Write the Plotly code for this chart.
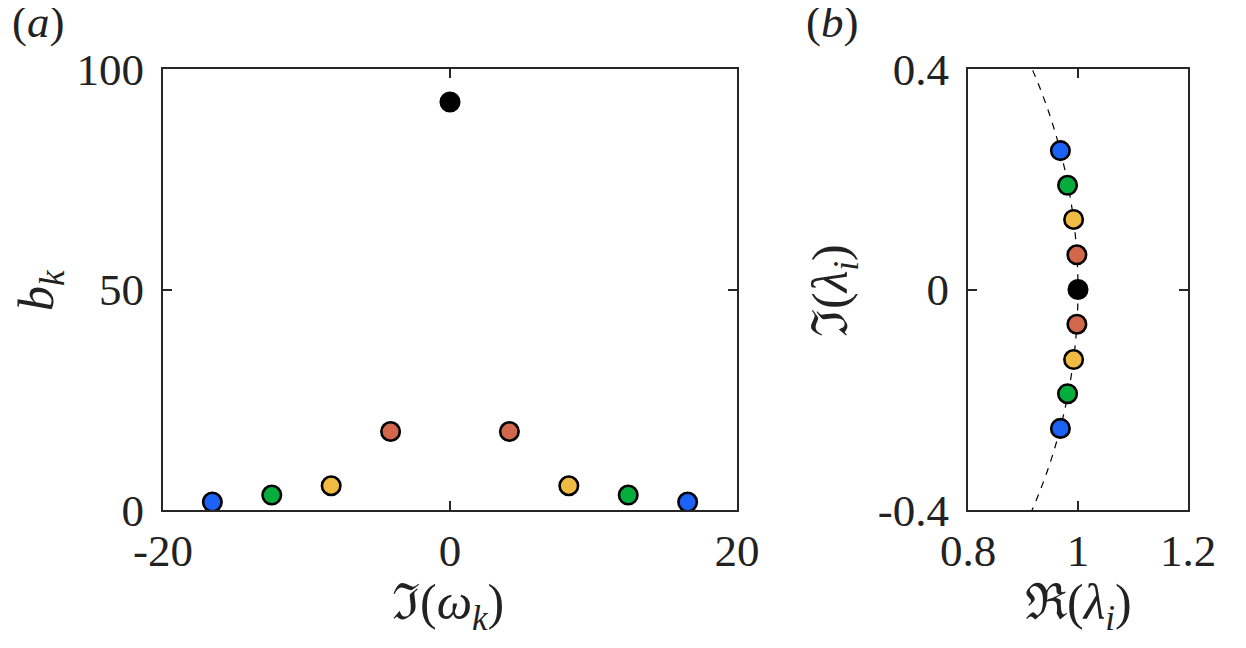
import plotly.graph_objects as go
from plotly.subplots import make_subplots

# panel (a): amplitudes vs imaginary part of the frequencies
omega_im = [-16.56, -12.42, -8.28, -4.14, 0.0, 4.14, 8.28, 12.42, 16.56]
b_k = [1.8, 3.4, 5.5, 17.8, 92.5, 17.8, 5.5, 3.4, 1.8]

# panel (b): eigenvalues on the unit circle
lam_re = [0.968, 0.981, 0.992, 0.998, 1.0, 0.998, 0.992, 0.981, 0.968]
lam_im = [0.252, 0.189, 0.127, 0.063, 0.0, -0.063, -0.127, -0.189, -0.252]

blue, green, yellow, orange = '#1b63f7', '#05ad3c', '#efbb42', '#d2684b'
colors = [blue, green, yellow, orange, 'black', orange, yellow, green, blue]

ax_col = '#262626'
font = 'Liberation Serif'
W, H = 1246, 648
off = 8  # page margin around the plot div


def px_x(p):
    return (p - off) / W


def px_y(p):
    return 1 - (p - off) / H


fig = make_subplots(rows=1, cols=2)

marker = dict(color=colors, size=18.5, line=dict(color='black', width=2.6))
fig.add_trace(go.Scatter(x=omega_im, y=b_k, mode='markers', marker=marker,
                         showlegend=False), row=1, col=1)
fig.add_trace(go.Scatter(x=lam_re, y=lam_im, mode='markers', marker=marker,
                         showlegend=False), row=1, col=2)

# dashed unit circle in panel (b)
fig.add_shape(type='circle', xref='x2', yref='y2', x0=-1, y0=-1, x1=1, y1=1,
              line=dict(color='black', width=1.2, dash='7px,7px'), layer='below')

axis_style = dict(showline=True, linecolor=ax_col, linewidth=2, mirror='ticks',
                  ticks='inside', ticklen=9, tickwidth=2, tickcolor=ax_col,
                  showgrid=False, zeroline=False, automargin=False,
                  tickfont=dict(family=font, size=45, color='#222222'))

fig.update_xaxes(axis_style)
fig.update_yaxes(axis_style, ticklabelstandoff=8)

ydom = [px_y(510), px_y(69)]
fig.update_xaxes(domain=[px_x(163), px_x(737)], range=[-20, 20],
                 tickvals=[-20, 0, 20], ticktext=['-20', '0', '20'], row=1, col=1)
fig.update_yaxes(domain=ydom, range=[0, 100],
                 tickvals=[0, 50, 100], ticktext=['0', '50', '100'], row=1, col=1)
fig.update_xaxes(domain=[px_x(968), px_x(1188)], range=[0.8, 1.2],
                 tickvals=[0.8, 1, 1.2], ticktext=['0.8', '1', '1.2'], row=1, col=2)
fig.update_yaxes(domain=ydom, range=[-0.4, 0.4],
                 tickvals=[-0.4, 0, 0.4], ticktext=['-0.4', '0', '0.4'], row=1, col=2)

lab = dict(family=font, size=45, color='#222222')
title = dict(family=font, size=50, color='#222222')
annotations = [
    dict(text='(<i>a</i>)', x=2 / W, y=px_y(22), xanchor='left', font=lab),
    dict(text='(<i>b</i>)', x=px_x(832), y=px_y(22), font=lab),
    dict(text='ℑ(<i>ω</i><sub><i>k</i></sub>)', x=px_x(448), y=px_y(606), font=title),
    dict(text='ℜ(<i>λ</i><sub><i>i</i></sub>)', x=px_x(1078), y=px_y(606), font=title),
    dict(text='<i>b</i><sub><i>k</i></sub>', x=px_x(40), y=px_y(290), textangle=-90,
         font=title),
    dict(text='ℑ(<i>λ</i><sub><i>i</i></sub>)', x=px_x(834), y=px_y(290), textangle=-90,
         font=title),
]
for a in annotations:
    a.setdefault('xanchor', 'center')
    fig.add_annotation(xref='paper', yref='paper', showarrow=False,
                       yanchor='middle', **a)

fig.update_layout(width=W, height=H, margin=dict(l=0, r=0, t=0, b=0),
                  plot_bgcolor='white', paper_bgcolor='white')

fig.write_html('out.html')
